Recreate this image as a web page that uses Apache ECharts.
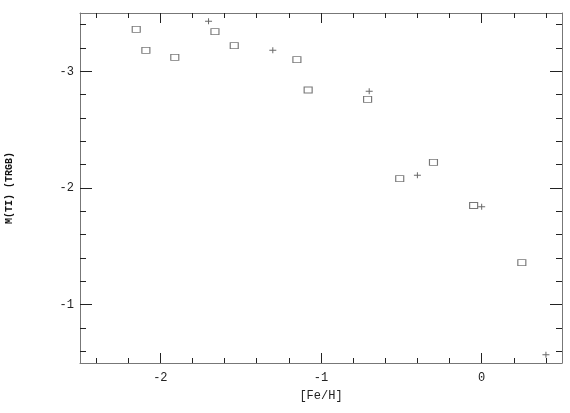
<!DOCTYPE html>
<html><head><meta charset="utf-8">
<script src="https://cdn.jsdelivr.net/npm/echarts@6/dist/echarts.min.js"></script>
<style>html,body{margin:0;padding:0;background:#fff}#c{width:570px;height:413px}</style>
</head><body><div id="c"></div>
<script>
const squareFeH = [-2.15, -2.09, -1.91, -1.66, -1.54, -1.15, -1.08, -0.71, -0.51, -0.30, -0.05, 0.25];
const squareMag = [-3.36, -3.18, -3.12, -3.34, -3.22, -3.10, -2.84, -2.76, -2.08, -2.22, -1.85, -1.36];
const plusFeH = [-1.70, -1.30, -0.70, -0.40, 0.00, 0.40];
const plusMag = [-3.43, -3.18, -2.83, -2.11, -1.84, -0.57];
const xMajorTicks = [-2, -1, 0];
const xMinorTicks = [-2.4, -2.2, -1.8, -1.6, -1.4, -1.2, -0.8, -0.6, -0.4, -0.2, 0.2, 0.4];
const yMajorTicks = [-3, -2, -1];
const yMinorTicks = [-3.4, -3.2, -2.8, -2.6, -2.4, -2.2, -1.8, -1.6, -1.4, -1.2, -0.8, -0.6];
const xRange = [-2.5, 0.5];
const yRange = [-3.5, -0.5];
const xTitle = '[Fe/H]';
const yTitle = 'M(TI) (TRGB)';

const FONT = 'Liberation Mono';
const TICK = '#222';
const FRAME = '#777';

function mkAxis(isX, position, ticks, len, withLabels, withLine, name) {
  const ax = {
    type: 'value',
    position: position,
    min: isX ? xRange[0] : yRange[0],
    max: isX ? xRange[1] : yRange[1],
    splitLine: {show: false},
    axisLine: {show: withLine, onZero: false, lineStyle: {color: FRAME, width: 1}},
    axisTick: {show: true, inside: true, length: len, customValues: ticks, lineStyle: {color: TICK, width: 1}},
    axisLabel: withLabels ? {
      show: true, customValues: ticks, color: '#222', fontFamily: FONT, fontSize: 12,
      margin: isX ? 9 : 6, formatter: v => String(v)
    } : {show: false},
    z: 5
  };
  if (!isX) ax.inverse = true;
  if (name) {
    ax.name = name;
    ax.nameLocation = 'middle';
    ax.nameGap = isX ? 27 : 66;
    ax.nameTextStyle = isX ? {fontFamily: FONT, fontSize: 12, color: '#222'}
                           : {fontFamily: FONT, fontSize: 10, color: '#111', fontWeight: 'bold'};
  }
  return ax;
}

const chart = echarts.init(document.getElementById('c'), null, {renderer: 'canvas'});
chart.setOption({
  animation: false,
  backgroundColor: '#fff',
  grid: {left: 80, right: 8, top: 13, bottom: 50, show: false, containLabel: false, outerBoundsMode: 'none'},
  xAxis: [
    mkAxis(true, 'bottom', xMajorTicks, 10, true, true, xTitle),
    mkAxis(true, 'bottom', xMinorTicks, 5, false, false),
    mkAxis(true, 'top', xMajorTicks, 10, false, true),
    mkAxis(true, 'top', xMinorTicks, 5, false, false)
  ],
  yAxis: [
    mkAxis(false, 'left', yMajorTicks, 12, true, true, yTitle),
    mkAxis(false, 'left', yMinorTicks, 6, false, false),
    mkAxis(false, 'right', yMajorTicks, 12, false, true),
    mkAxis(false, 'right', yMinorTicks, 6, false, false)
  ],
  series: [
    {
      type: 'scatter', xAxisIndex: 0, yAxisIndex: 0,
      symbol: 'rect', symbolSize: [8, 6],
      itemStyle: {color: '#fff', borderColor: '#555', borderWidth: 1},
      data: squareFeH.map((x, i) => [x, squareMag[i]]),
      z: 10
    },
    {
      type: 'scatter', xAxisIndex: 0, yAxisIndex: 0,
      symbol: 'path://M0,2.5h7v1h-7z M3,0h1v6h-1z', symbolSize: [7, 6],
      itemStyle: {color: '#444'},
      data: plusFeH.map((x, i) => [x, plusMag[i]]),
      z: 10
    }
  ]
});
</script>
</body></html>
